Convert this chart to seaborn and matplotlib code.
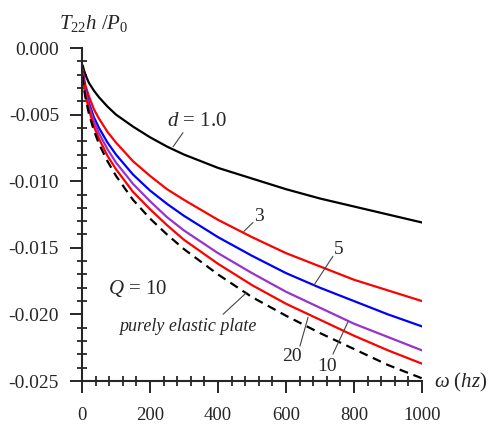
import matplotlib
matplotlib.use("Agg")
import matplotlib.pyplot as plt
import seaborn as sns
import pandas as pd
from matplotlib.ticker import MultipleLocator, FormatStrFormatter

# ---- data ----
omega = [2, 5, 10, 20, 35, 50, 75, 100, 150, 200, 250, 300, 400, 500, 600, 700, 800, 900, 1000]
d_1 = [-0.0013, -0.0016, -0.0020, -0.0026, -0.0032, -0.0037, -0.0044, -0.0050, -0.0059, -0.0067,
       -0.0074, -0.0080, -0.0090, -0.0098, -0.0106, -0.0113, -0.0119, -0.0125, -0.0131]
d_3 = [-0.0016, -0.0021, -0.0028, -0.0036, -0.0046, -0.0053, -0.0063, -0.0071, -0.0085, -0.0096,
       -0.0106, -0.0114, -0.0129, -0.0142, -0.0154, -0.0164, -0.0174, -0.0182, -0.0190]
d_5 = [-0.0018, -0.0024, -0.0031, -0.0041, -0.0052, -0.0060, -0.0071, -0.0080, -0.0095, -0.0107,
       -0.0117, -0.0126, -0.0142, -0.0156, -0.0169, -0.0180, -0.0190, -0.0200, -0.0209]
d_10 = [-0.0019, -0.0025, -0.0032, -0.0043, -0.0055, -0.0064, -0.0076, -0.0086, -0.0102, -0.0115,
        -0.0127, -0.0137, -0.0154, -0.0169, -0.0183, -0.0195, -0.0207, -0.0217, -0.0227]
d_20 = [-0.0020, -0.0027, -0.0035, -0.0046, -0.0059, -0.0068, -0.0081, -0.0091, -0.0108, -0.0121,
        -0.0133, -0.0144, -0.0162, -0.0178, -0.0192, -0.0204, -0.0216, -0.0227, -0.0237]
elastic = [-0.0021, -0.0029, -0.0037, -0.0049, -0.0062, -0.0072, -0.0085, -0.0096, -0.0114, -0.0128,
           -0.0140, -0.0151, -0.0170, -0.0187, -0.0201, -0.0214, -0.0226, -0.0238, -0.0248]

series_names = ["1.0", "3", "5", "10", "20", "elastic"]
series_values = [d_1, d_3, d_5, d_10, d_20, elastic]
colors = {"1.0": "#000000", "3": "#FF0000", "5": "#0000FF", "10": "#9932CC", "20": "#FF0000",
          "elastic": "#000000"}
x_ticks = [0, 200, 400, 600, 800, 1000]
y_ticks = [0.000, -0.005, -0.010, -0.015, -0.020, -0.025]

rows = []
for name, vals in zip(series_names, series_values):
    for xv, yv in zip(omega, vals):
        rows.append({"omega": xv, "T": yv, "d": name})
df = pd.DataFrame(rows)

sns.set_style("ticks")
plt.rcParams["font.family"] = ["Liberation Serif", "DejaVu Serif"]
plt.rcParams["mathtext.fontset"] = "custom"
plt.rcParams["mathtext.rm"] = "Liberation Serif"
plt.rcParams["mathtext.it"] = "Liberation Serif:italic"

fig = plt.figure(figsize=(4.89, 4.26), dpi=100)
ax = fig.add_axes([82 / 489, 1 - 381 / 426, 340 / 489, 333 / 426])

dash_map = {n: "" for n in series_names}
dash_map["elastic"] = (4, 2.6)
sns.lineplot(data=df, x="omega", y="T", hue="d", style="d", palette=colors, dashes=dash_map,
             linewidth=1.6, ax=ax, legend=False, estimator=None, sort=False)

ax.set_xlim(0, 1000)
ax.set_ylim(-0.025, 0.0)
ax.set_xticks(x_ticks)
ax.set_yticks(y_ticks)
ax.yaxis.set_major_formatter(FormatStrFormatter("%.3f"))
ax.xaxis.set_minor_locator(MultipleLocator(40))
ax.yaxis.set_minor_locator(MultipleLocator(0.001))
for s in ["top", "right"]:
    ax.spines[s].set_visible(False)
for s in ["left", "bottom"]:
    ax.spines[s].set_linewidth(1.5)
ax.tick_params(which="major", direction="out", length=8.5, width=1.4, labelsize=14, pad=8)
ax.tick_params(axis="x", which="major", labelsize=13.5, pad=10)
ax.tick_params(which="minor", direction="inout", length=6.5, width=1.3)
ax.set_xlabel("")
ax.set_ylabel("")

# axis titles
ax.text(0.035, 1.075, r"$T_{22}h\ /P_0$", transform=ax.transAxes, ha="center", va="center",
        fontsize=15)
ax.text(1.035, -0.004, r"$\omega\ (hz)$", transform=ax.transAxes, ha="left", va="center",
        fontsize=15)

# annotations with leader lines
lp = dict(arrowstyle="-", color="#444444", lw=0.8, shrinkA=0, shrinkB=0)
ax.annotate("", xy=(268, -0.00741), xytext=(297, -0.00636), arrowprops=lp)
ax.text(338, -0.00554, r"$d$ = 1.0", ha="center", va="center", fontsize=15)
ax.annotate("", xy=(476, -0.01377), xytext=(503, -0.0131), arrowprops=lp)
ax.text(521, -0.01265, "3", ha="center", va="center", fontsize=14)
ax.annotate("", xy=(682, -0.01781), xytext=(738, -0.01564), arrowprops=lp)
ax.text(756, -0.01512, "5", ha="center", va="center", fontsize=14)
ax.annotate("", xy=(782, -0.02058), xytext=(738, -0.02298), arrowprops=lp)
ax.text(721, -0.02388, "10", ha="center", va="center", fontsize=14)
ax.annotate("", xy=(665, -0.02021), xytext=(641, -0.02238), arrowprops=lp)
ax.text(618, -0.02313, "20", ha="center", va="center", fontsize=14)
ax.annotate("", xy=(485, -0.01834), xytext=(415, -0.01999), arrowprops=lp)
ax.text(312, -0.02088, "purely elastic plate", ha="center", va="center", fontsize=13,
        style="italic")
ax.text(165, -0.01804, r"$Q$ = 10", ha="center", va="center", fontsize=15)

fig.savefig("out.png", dpi=100)
